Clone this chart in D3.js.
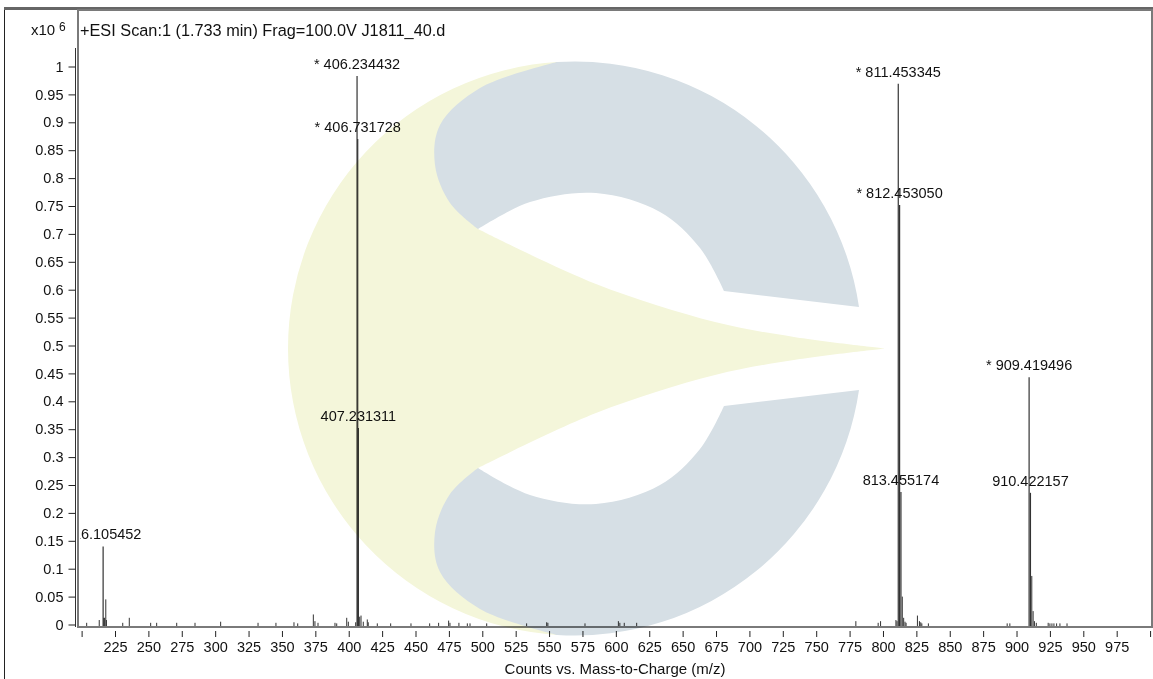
<!DOCTYPE html>
<html>
<head>
<meta charset="utf-8">
<script src="https://cdn.jsdelivr.net/npm/d3@7"></script>
<style>
  body { margin: 0; background: #fff; }
  svg { display: block; font-family: "Liberation Sans", Arial, sans-serif; }
  .tick text { font-size: 14.5px; fill: #111; }
  .tick line { stroke: #222; }
  .lbl { font-size: 14.5px; fill: #111; }
</style>
</head>
<body>
<script>
// labelled peaks
var peakMz = [216.105452, 406.234432, 406.731728, 407.231311, 811.453345, 812.453050, 813.455174, 909.419496, 910.422157];
var peakInt = [0.140, 0.983, 0.870, 0.352, 0.969, 0.752, 0.2375, 0.443, 0.236];
var peakLabel = ["216.105452", "* 406.234432", "* 406.731728", "407.231311", "* 811.453345", "* 812.453050", "813.455174", "* 909.419496", "910.422157"];

// small unlabelled peaks
var minorMz = [203.8, 213.2, 216.6, 217.2, 218.1, 218.6, 230.8, 235.7, 251.7, 256.2, 271.2, 284.9, 304.1, 332.1, 345.5, 359.0, 361.8,
  373.5, 374.7, 377.0, 389.7, 391.0, 398.5, 399.7, 405.2, 408.2, 409.2, 410.9, 413.9, 414.6, 421.4, 431.4, 446.6, 460.6, 467.3,
  474.8, 475.8, 482.5, 488.8, 490.8, 503.3, 533.2, 548.2, 549.1, 576.9, 601.9, 603.0, 606.3, 615.6, 779.7, 796.4, 798.2, 809.7,
  810.5, 814.46, 815.5, 816.5, 817.3, 825.8, 827.3, 828.3, 829.1, 834.0, 893.0, 895.0, 911.42, 912.42, 913.4, 914.8, 923.7,
  925.0, 926.5, 928.0, 930.0, 932.5, 937.8];
var minorInt = [0.003, 0.008, 0.012, 0.012, 0.045, 0.008, 0.003, 0.012, 0.003, 0.003, 0.003, 0.003, 0.005, 0.003, 0.003, 0.004, 0.002,
  0.018, 0.006, 0.003, 0.003, 0.002, 0.012, 0.005, 0.004, 0.014, 0.016, 0.005, 0.009, 0.004, 0.002, 0.002, 0.002, 0.002, 0.003,
  0.007, 0.003, 0.003, 0.002, 0.002, 0.002, 0.002, 0.004, 0.003, 0.002, 0.006, 0.003, 0.003, 0.003, 0.006, 0.003, 0.006, 0.008,
  0.006, 0.050, 0.012, 0.005, 0.003, 0.016, 0.006, 0.004, 0.002, 0.002, 0.002, 0.002, 0.087, 0.024, 0.006, 0.003, 0.003,
  0.002, 0.002, 0.002, 0.002, 0.002, 0.002];

var xTicks = d3.range(200, 1001, 25);
var yTicks = [0, 0.05, 0.1, 0.15, 0.2, 0.25, 0.3, 0.35, 0.4, 0.45, 0.5, 0.55, 0.6, 0.65, 0.7, 0.75, 0.8, 0.85, 0.9, 0.95, 1];
var yTickLabels = ["0", "0.05", "0.1", "0.15", "0.2", "0.25", "0.3", "0.35", "0.4", "0.45", "0.5", "0.55", "0.6", "0.65", "0.7", "0.75", "0.8", "0.85", "0.9", "0.95", "1"];

var W = 1153, H = 679;
var plot = {left: 78, top: 10, right: 1152, bottom: 627};

var x = d3.scaleLinear().domain([225, 975]).range([115, 1116.7]);
var y = d3.scaleLinear().domain([0, 1]).range([624.5, 66.5]);

var svg = d3.select("body").append("svg").attr("width", W).attr("height", H);

svg.append("defs").append("clipPath").attr("id", "plotclip")
  .append("rect").attr("x", plot.left + 2).attr("y", plot.top)
  .attr("width", plot.right - plot.left - 3).attr("height", plot.bottom - plot.top - 1);

// outer frame
svg.append("line").attr("x1", 4.5).attr("x2", 4.5).attr("y1", 8).attr("y2", H)
  .attr("stroke", "#222");
svg.append("rect").attr("x", 4).attr("y", 7).attr("width", W - 4).attr("height", 3).attr("fill", "#666");

// plot frame
svg.append("rect").attr("x", plot.left).attr("y", plot.top)
  .attr("width", plot.right - plot.left).attr("height", plot.bottom - plot.top)
  .attr("fill", "none").attr("stroke", "#7a7a7a").attr("stroke-width", 2);
svg.append("line").attr("x1", 75.5).attr("x2", 75.5).attr("y1", 48).attr("y2", plot.bottom)
  .attr("stroke", "#333");

// header texts
svg.append("text").attr("class", "lbl").attr("x", 31).attr("y", 35).style("font-size", "15px").text("x10");
svg.append("text").attr("class", "lbl").attr("x", 59).attr("y", 31).style("font-size", "12px").text("6");
svg.append("text").attr("class", "lbl").attr("x", 80).attr("y", 36).style("font-size", "16.3px")
  .text("+ESI Scan:1 (1.733 min) Frag=100.0V J1811_40.d");

// axes
var yAxis = d3.axisLeft(y).tickValues(yTicks).tickSize(7).tickPadding(5)
  .tickFormat(function (d, i) { return yTickLabels[i]; });
var gy = svg.append("g").attr("transform", "translate(75.5,0)").call(yAxis);
gy.select(".domain").remove();

var xAxis = d3.axisBottom(x).tickValues(xTicks).tickSize(6).tickPadding(5)
  .tickFormat(function (d) { return (d === 200 || d === 1000) ? "" : d; });
var gx = svg.append("g").attr("transform", "translate(0,631)").call(xAxis);
gx.select(".domain").remove();
gx.selectAll(".tick line").attr("stroke", "#222");

svg.append("text").attr("class", "lbl").attr("x", (plot.left + plot.right) / 2).attr("y", 673.5)
  .attr("text-anchor", "middle").style("font-size", "15px").text("Counts vs. Mass-to-Charge (m/z)");

// peaks
var g = svg.append("g").attr("clip-path", "url(#plotclip)");
var base = plot.bottom - 1;

g.selectAll("line.minor").data(minorMz).enter().append("line")
  .attr("class", "minor")
  .attr("x1", function (d) { return x(d); }).attr("x2", function (d) { return x(d); })
  .attr("y1", base).attr("y2", function (d, i) { return Math.min(base - 1, y(minorInt[i])); })
  .attr("stroke", "#333").attr("stroke-width", 1);

g.selectAll("line.peak").data(peakMz).enter().append("line")
  .attr("class", "peak")
  .attr("x1", function (d) { return x(d); }).attr("x2", function (d) { return x(d); })
  .attr("y1", base).attr("y2", function (d, i) { return y(peakInt[i]); })
  .attr("stroke", "#333").attr("stroke-width", 1.2);

g.selectAll("text.plbl").data(peakMz).enter().append("text")
  .attr("class", "lbl plbl")
  .attr("x", function (d) { return x(d); })
  .attr("y", function (d, i) { return y(peakInt[i]) - 7; })
  .attr("text-anchor", "middle")
  .text(function (d, i) { return peakLabel[i]; });

// watermark logo (decoration)
var cx = 575, cy = 348.5, R = 287;
var wedge = [[885, 348.5], [794, 337], [715, 322], [596, 284], [478, 229]];
var innerArc = [[724, 291], [700, 248], [660, 212], [596, 193], [530, 202], [478, 229]];
var leftEdge = [[478, 229], [450, 203], [435, 165], [440, 125], [480, 88], [557, 62]];
var curve = d3.line().curve(d3.curveCatmullRom);
function mirror(pts) { return pts.map(function (p) { return [p[0], 2 * cy - p[1]]; }); }
function onCircle(px) { return Math.sqrt(R * R - (px - cx) * (px - cx)); }

var wm = svg.append("g").style("mix-blend-mode", "multiply").style("isolation", "isolate");
var topY = cy - onCircle(557), botY = cy + onCircle(557);
var yellowPath = curve(wedge) + " L557," + topY + " A" + R + "," + R + " 0 0 0 557," + botY +
  " L478," + (2 * cy - 229) + curve(mirror(wedge).reverse()).replace(/^M[^C]*/, " ") + "Z";
wm.append("path").attr("d", yellowPath).attr("fill", "#f4f6da");

var endX = 859, endY = cy - onCircle(859);
var upper = "M557," + topY + " A" + R + "," + R + " 0 0 1 " + endX + "," + endY +
  " L" + curve(innerArc).slice(1) + " L" + curve(leftEdge).slice(1) + "Z";
wm.append("path").attr("d", upper).attr("fill", "#d6dfe5");
wm.append("path").attr("d", upper).attr("fill", "#d6dfe5")
  .attr("transform", "translate(0," + (2 * cy) + ") scale(1,-1)");
</script>
</body>
</html>
